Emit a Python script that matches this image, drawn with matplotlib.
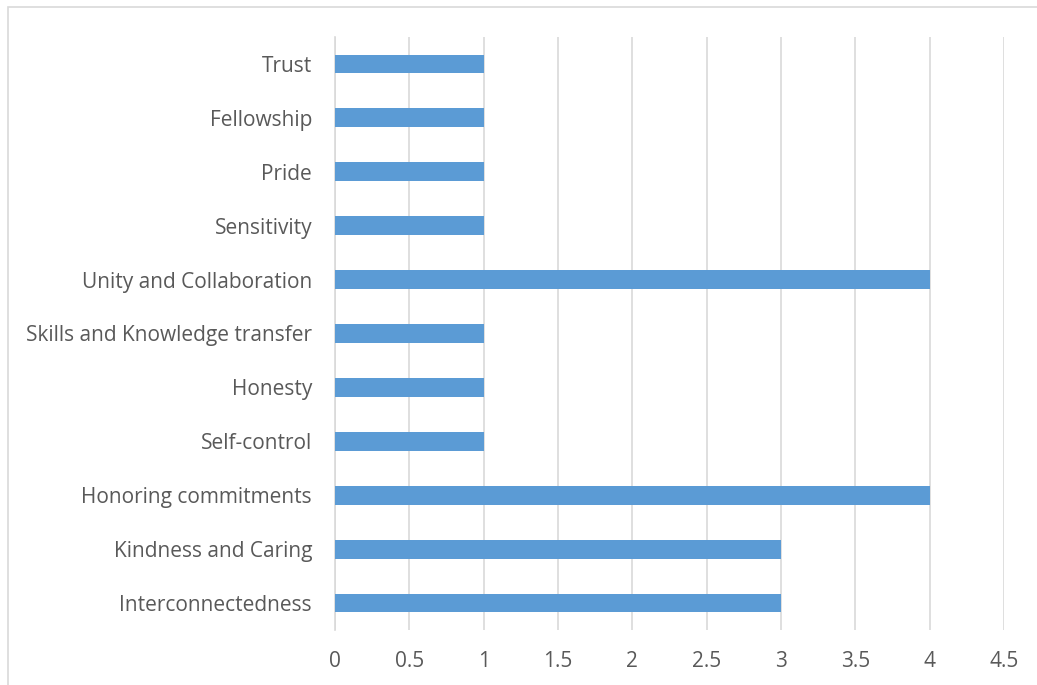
import matplotlib
matplotlib.use("Agg")
import matplotlib.pyplot as plt
from matplotlib.patches import Rectangle

categories = [
    "Interconnectedness",
    "Kindness and Caring",
    "Honoring commitments",
    "Self-control",
    "Honesty",
    "Skills and Knowledge transfer",
    "Unity and Collaboration",
    "Sensitivity",
    "Pride",
    "Fellowship",
    "Trust",
]
values = [3, 3, 4, 1, 1, 1, 4, 1, 1, 1, 1]
xticks = [0, 0.5, 1, 1.5, 2, 2.5, 3, 3.5, 4, 4.5]
xtick_labels = ["0", "0.5", "1", "1.5", "2", "2.5", "3", "3.5", "4", "4.5"]

W, H = 1037, 685
plt.rcParams["font.family"] = ["Open Sans", "DejaVu Sans"]

fig = plt.figure(figsize=(W / 100, H / 100), dpi=100)
fig.patch.set_facecolor("white")

# chart-area frame, open at right and bottom
fig.add_artist(Rectangle((8 / W, -0.05), 1.2, (H - 7) / H + 0.05,
                         transform=fig.transFigure, fill=False,
                         edgecolor="#D9D9D9", linewidth=1.2))

ax = fig.add_axes([335 / W, 1 - 630 / H, (1004 - 335) / W, (630 - 37) / H])
ypos = list(range(len(categories)))
ax.barh(ypos, values, height=0.35, color="#5B9BD5", zorder=3)

ax.set_xlim(0, 4.5)
ax.set_ylim(-0.5, len(categories) - 0.5)
ax.set_xticks(xticks)
ax.set_xticklabels(xtick_labels)
ax.set_yticks(ypos)
ax.set_yticklabels(categories)

ax.grid(axis="x", color="#D9D9D9", linewidth=1.2, zorder=0)
ax.grid(axis="y", visible=False)
for side in ["top", "right", "bottom"]:
    ax.spines[side].set_visible(False)
ax.spines["left"].set_color("#D9D9D9")
ax.spines["left"].set_linewidth(1.2)

ax.tick_params(axis="both", length=0, colors="#595959", labelsize=15)
ax.tick_params(axis="y", pad=16.5)
ax.tick_params(axis="x", pad=15)

fig.savefig("out.png", dpi=100, facecolor="white")
